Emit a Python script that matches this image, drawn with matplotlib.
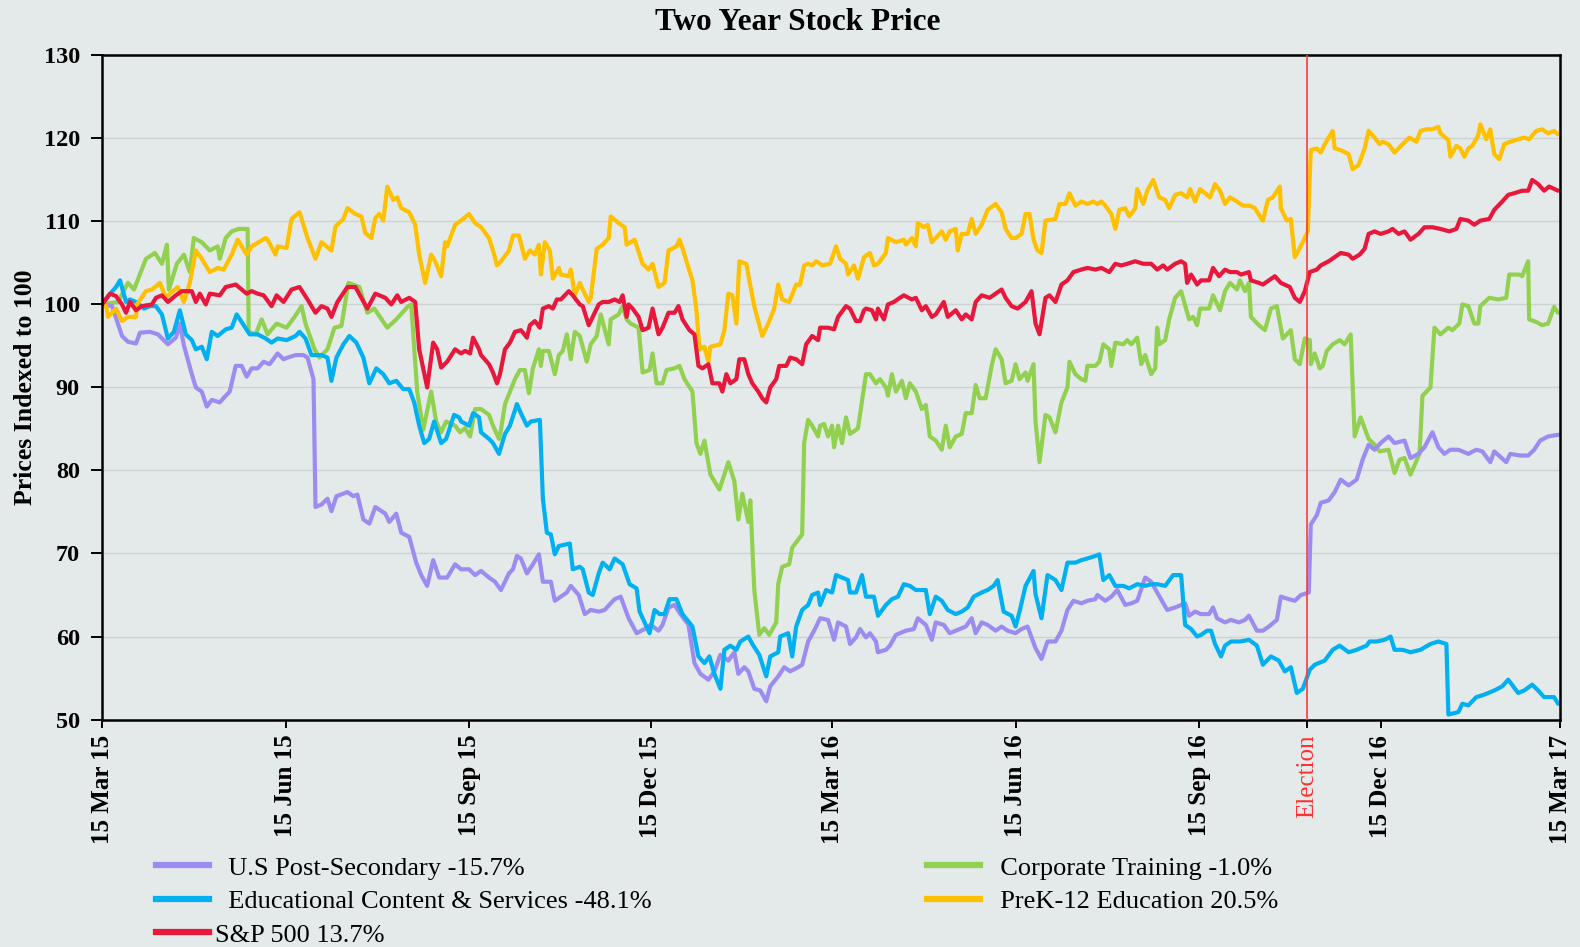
import matplotlib
matplotlib.use("Agg")
import matplotlib.pyplot as plt
import matplotlib.dates as mdates
from matplotlib.lines import Line2D
from datetime import datetime
import numpy as np

plt.rcParams['font.family'] = ['Liberation Serif', 'DejaVu Serif']

# (days since 15 Mar 2015, indexed price)
post_secondary = [
    (0, 100.0), (5, 99.8), (10, 96.2), (13, 95.5), (17, 95.3), (19, 96.6), (24, 96.7), (28, 96.4),
    (33, 95.2), (37, 96.0), (39, 97.7), (41, 95.1), (45, 91.6), (47, 90.0), (50, 89.5), (52.5, 87.7),
    (55, 88.5), (59, 88.2), (62, 89.0), (64, 89.5), (67, 92.6), (70, 92.6), (72.5, 91.3), (75, 92.3),
    (78, 92.3), (81, 93.1), (84, 92.8), (88, 94.1), (91, 93.4), (93, 93.6), (97, 93.9), (101, 93.9),
    (103, 93.6), (106, 91.0), (107, 75.6), (110, 75.9), (113, 76.6), (115, 75.1), (117.5, 76.9),
    (123, 77.4), (126, 76.9), (128, 77.1), (131, 74.1), (134, 73.6), (137, 75.6), (142, 74.8),
    (144, 73.8), (147.5, 74.8), (150, 72.5), (154, 72.0), (157.5, 68.9), (160, 67.4), (163, 66.1),
    (166, 69.2), (169, 67.1), (173, 67.1), (177, 68.7), (180, 68.1),
    (184, 68.1), (187, 67.4), (190, 67.9), (194, 67.1), (197, 66.6), (200, 65.6), (204, 67.6),
    (206, 68.1), (208, 69.7), (210, 69.4), (213, 67.6), (216, 68.7), (219, 69.9), (221, 66.6),
    (225, 66.6), (227, 64.3), (230, 64.8), (233, 65.3), (235, 66.1), (239, 65.0), (242, 62.7),
    (245, 63.2), (249, 63.0), (252, 63.2), (255, 64.0), (257, 64.5), (260, 64.8), (264, 62.2),
    (268, 60.4), (272, 60.9), (275, 61.4), (279, 60.7), (281, 61.4), (284, 63.5), (287, 63.8),
    (290, 62.7), (294, 61.4), (297, 56.8), (300, 55.5), (304, 54.8), (307, 55.8), (310, 57.8),
    (314, 57.1), (317, 58.1), (319, 55.5), (322, 56.3), (324, 55.8), (327, 53.7), (330, 53.5),
    (333, 52.2), (335, 54.0), (339, 55.2), (342, 56.3), (345, 55.8), (349, 56.3), (351, 56.6),
    (354, 59.4), (357, 60.7), (360, 62.2),
    (364, 62.0), (367, 59.6), (369, 61.7), (373, 61.2), (375, 59.1), (378, 59.9), (380, 60.9),
    (383, 59.9), (385, 60.4), (388, 59.4), (389, 58.1), (393, 58.4), (395, 58.9), (398, 60.2),
    (400, 60.4), (403, 60.7), (407, 60.9), (409, 62.2), (413, 61.4), (416, 59.6), (418, 61.7),
    (422, 61.4), (425, 60.4), (428, 60.7), (433, 61.2), (436, 62.2), (438, 60.4), (441, 61.7),
    (444, 61.4), (448, 60.7), (451, 61.2), (454, 60.7), (458, 60.4), (461, 60.9), (464, 61.2),
    (468, 58.6), (471, 57.3), (474, 59.4), (478, 59.4), (481, 60.7), (484, 63.2), (487, 64.3),
    (491, 64.0), (494, 64.3), (498, 64.5), (499, 65.0), (503, 64.3), (506, 64.8), (509, 65.6),
    (513, 63.8), (516, 64.0), (519, 64.3), (523, 67.1), (526, 66.6), (529, 65.3), (534, 63.2),
    (538, 63.5), (543, 64.0),
    (545, 62.5), (548, 63.0), (551, 62.7), (555, 62.7), (557, 63.5), (559, 62.2), (563, 61.7),
    (566, 62.0), (570, 61.7), (573, 62.0), (575, 62.5), (579, 60.7), (582, 60.7), (585, 61.2),
    (589, 62.0), (591, 64.8), (595, 64.5), (598, 64.3), (601, 65.0), (605, 65.3), (606, 73.5),
    (609, 74.6), (611, 76.1), (615, 76.4), (618, 77.4), (621, 78.9), (625, 78.2), (629, 78.9),
    (632, 81.3), (635, 83.1), (638, 82.5), (641, 83.3), (645, 84.1), (648, 83.3), (653, 83.6),
    (656, 81.5), (660, 82.0), (663, 82.8), (667, 84.6), (670, 82.8), (673, 82.0), (676, 82.5),
    (680, 82.5), (685, 82.0), (689, 82.5), (692, 82.3), (696, 81.0), (698, 82.3), (704, 81.0),
    (706, 82.0), (711, 81.8), (715, 81.8), (718, 82.5), (721, 83.6), (725, 84.1), (730, 84.3),
]

ed_content = [
    (0, 100.0), (3, 101.0), (7, 102.1), (9, 102.9), (12, 100.3), (14, 100.6), (17, 100.3), (21, 99.5),
    (24, 99.8), (27, 99.8), (30, 98.8), (33, 95.9), (36, 96.7), (39, 99.3), (42, 96.4), (45, 95.7),
    (47, 94.6), (50, 94.9), (52.5, 93.4), (55, 96.7), (58, 96.2), (62, 97.0), (65, 97.2), (67.5, 98.8),
    (71, 97.5), (74, 96.4), (78, 96.4), (82, 95.9), (85, 95.4), (88, 95.9), (92.5, 95.7), (97, 96.2),
    (99, 96.7), (102, 95.9), (105, 93.9), (110, 93.9), (113, 93.6), (115, 90.8), (117.5, 93.6),
    (121, 95.2), (124, 96.2), (127.5, 95.4), (131, 93.6), (134, 90.5), (137.5, 92.3), (141, 91.6),
    (144, 90.5), (147.5, 90.8), (151, 89.8), (154, 89.8), (156.5, 88.2), (159, 85.4), (161.5, 83.3),
    (164, 83.8), (166.5, 85.9), (170, 83.3), (172.5, 83.8), (176.5, 86.7), (179, 86.4),
    (180, 85.9), (184, 85.4), (186, 86.9), (189, 86.4), (190, 84.6), (194, 83.8), (196, 83.3),
    (199, 82.0), (202, 84.4), (204.5, 85.4), (208, 88.0), (210, 86.9), (213, 85.4), (215, 85.9),
    (219.5, 86.1), (221, 76.6), (223, 72.5), (225, 72.3), (227, 69.9), (229, 70.9), (234.5, 71.2),
    (236, 68.1), (239.5, 68.4), (241, 68.1), (244, 65.3), (246, 65.0), (249, 67.6), (251, 68.9),
    (254.5, 68.1), (257, 69.4), (261, 68.7), (264.5, 66.3), (268, 65.8), (269.5, 63.0), (273, 61.2),
    (274.5, 60.4), (277, 63.2), (279.5, 62.7), (282, 62.7), (284.5, 64.5), (288, 64.5), (291, 62.7),
    (296, 61.2), (299, 57.6), (302, 56.8), (304.5, 57.6), (307, 55.5), (310, 53.7), (312, 58.4),
    (315, 58.9), (318, 58.4), (320, 59.4), (324, 60.0), (326, 59.1), (329.5, 57.8), (333, 55.2),
    (335, 57.6), (339, 58.1), (340, 60.0), (344, 60.4), (346, 57.6), (348, 61.2), (351, 63.2),
    (354, 63.8), (356, 65.0), (359, 65.3), (360, 63.8),
    (363, 65.6), (366, 65.3), (368, 67.4), (371, 67.1), (374, 66.8), (375, 65.3), (378, 65.3),
    (381, 67.4), (383, 64.8), (387, 64.8), (389, 62.5), (393, 63.8), (396, 64.5), (399, 64.8),
    (402, 66.3), (405, 66.1), (408, 65.6), (413, 65.6), (415, 62.7), (418, 64.8), (421, 64.3),
    (424, 63.2), (428, 62.7), (431, 63.0), (434, 63.5), (437, 64.8), (441, 65.3), (444, 65.6),
    (447, 66.1), (449, 66.8), (452, 63.0), (456, 62.5), (458, 61.2), (460, 63.0), (463, 66.1),
    (467, 67.9), (468, 65.1), (471, 62.2), (474, 67.4), (478, 66.8), (481, 65.6), (484, 68.9),
    (488, 68.9), (491, 69.2), (494, 69.4), (498, 69.7), (500, 69.9), (502, 66.8), (505, 67.4),
    (508, 66.1), (512, 66.1), (515, 65.8), (519, 66.3), (523, 66.1), (526, 66.3), (529, 66.3),
    (533, 66.1), (537, 67.4),
    (541, 67.4), (543, 61.4), (546, 60.9), (549, 60.0), (551, 60.2), (554, 60.7), (556, 60.7),
    (558, 59.1), (561, 57.6), (563, 58.9), (566, 59.4), (570.5, 59.4), (575, 59.6), (579, 58.9),
    (582, 56.6), (586, 57.6), (590, 57.1), (593, 55.8), (596, 56.3), (599, 53.2), (602, 53.7),
    (605.5, 56.0), (608, 56.6), (613, 57.1), (617, 58.4), (620.5, 58.9), (625, 58.1), (629, 58.4),
    (634, 58.9), (635.5, 59.4), (639, 59.4), (643, 59.6), (646, 60.0), (648, 58.4), (652, 58.4),
    (656, 58.1), (661, 58.4), (666, 59.1), (670, 59.4), (674, 59.1), (675, 50.6), (680, 50.9),
    (682, 51.9), (685, 51.7), (689, 52.7), (693, 53.0), (698, 53.5), (702, 54.0), (705, 54.8),
    (710, 53.2), (713, 53.5), (717, 54.2), (720, 53.5), (723, 52.7), (728, 52.7), (730, 51.9),
]

sp500 = [
    (0, 100.0), (4, 101.3), (7, 101.0), (10, 100.0), (12, 99.0), (14, 100.3), (17, 99.3), (20, 99.8),
    (25, 100.0), (27, 100.8), (30, 101.1), (33, 100.3), (37, 101.1), (40, 101.6), (45, 101.6),
    (47, 100.3), (49, 101.3), (52, 100.0), (54, 101.3), (59, 101.1), (62, 102.1), (67, 102.4),
    (70, 101.8), (72.5, 101.3), (75, 101.6), (78, 101.3), (81, 101.1), (85, 99.8), (87.5, 101.1),
    (91, 100.3), (95, 101.8), (99, 102.1), (103, 100.6), (107, 99.0), (110, 99.8), (113, 99.5),
    (115, 98.5), (118, 100.3), (123, 102.1), (127, 102.1), (130, 100.8), (133, 99.5), (137, 101.3),
    (142, 100.8), (145, 100.0), (148, 101.1), (150, 100.3), (154, 100.8), (157, 100.3), (159, 94.6),
    (163, 90.0), (166, 95.4), (168, 94.6), (170, 92.4), (173, 93.1), (177, 94.6), (180, 94.1),
    (182, 94.4), (184.5, 94.1), (186, 96.0), (189, 94.6), (190, 93.9), (194, 92.8), (196, 91.8),
    (198, 90.5), (199.5, 91.6), (202, 94.6), (204.5, 95.4), (207, 96.7), (210, 96.9), (213, 96.0),
    (214.5, 97.5), (217, 98.0), (219.5, 97.2), (221, 99.5), (224, 99.8), (226, 99.5), (228, 100.6),
    (230, 100.6), (234, 101.6), (236, 101.1), (239.5, 100.0), (241, 99.8), (244, 97.5), (246, 98.5),
    (249, 100.0), (251, 100.3), (254, 100.3), (257, 100.6), (259.5, 100.3), (261, 101.1), (263, 98.5),
    (264, 100.0), (266, 99.5), (269, 98.5), (271, 96.9), (274, 97.2), (276, 99.5), (279, 96.4),
    (281, 97.2), (284, 99.0), (287, 99.0), (289, 99.8), (291, 98.2), (294.5, 96.9), (297, 96.4),
    (299, 92.6), (301, 92.3), (304, 92.8), (306, 90.5), (309.5, 90.5), (311, 89.5), (313, 91.6),
    (315, 90.5), (318, 91.0), (319.5, 93.4), (322, 93.4), (324, 91.6), (326, 90.5), (329, 89.5),
    (331, 88.7), (333, 88.2), (335, 90.0), (338, 91.0), (339.5, 92.6), (343, 92.6), (345, 93.6),
    (348, 93.4), (351, 92.8), (353, 95.2), (356, 96.2), (359, 95.7), (360, 97.2),
    (362, 97.2), (364, 97.2), (367, 97.0), (369, 98.5), (373, 99.8), (375, 99.5), (378, 98.0),
    (380, 98.0), (382, 99.3), (383, 99.5), (386, 99.3), (388, 98.2), (389, 99.5), (392, 98.2),
    (394, 100.0), (397, 100.3), (400, 100.8), (402, 101.1), (406, 100.6), (408, 100.8), (411, 99.3),
    (413, 99.8), (416, 98.5), (418, 98.8), (422, 100.3), (424, 98.5), (428, 99.3), (431, 98.2),
    (433, 98.8), (436, 98.2), (438, 100.3), (441, 101.1), (445, 100.8), (448, 101.3), (451, 101.8),
    (453, 100.8), (456, 99.8), (459, 99.5), (463, 100.3), (466, 101.6), (468, 97.7), (470, 96.4),
    (473, 100.8), (475, 101.1), (478, 100.3), (481, 102.4), (484, 102.9), (487, 103.9), (491, 104.2),
    (494, 104.4), (498, 104.2), (501, 104.4), (505, 103.9), (508, 104.9), (511, 104.7), (514, 104.9),
    (518, 105.2), (522, 104.9), (526, 104.9), (529, 104.2), (532, 104.7), (534, 104.2), (538, 104.9),
    (541, 105.2), (543, 104.9), (544, 102.6), (546, 103.6), (549, 102.4), (551, 102.9), (555, 102.9),
    (557, 104.4), (560, 103.4), (563, 104.2), (565.5, 103.9), (569, 103.9), (571, 103.6), (575, 103.9),
    (576, 102.9), (580, 102.6), (582, 102.4), (585, 102.9), (588, 103.4), (591, 102.6), (595.5, 102.1),
    (598, 100.8), (600.5, 100.3), (603, 101.6), (605.5, 103.9), (609, 104.2), (611, 104.7),
    (615, 105.2), (618, 105.7), (621, 106.2), (625, 106.0), (627, 105.5), (630.5, 106.0), (633, 106.7),
    (635, 108.5), (638, 108.8), (641, 108.5), (645, 108.8), (647, 109.1), (650, 108.5), (653, 108.8),
    (656, 107.8), (660, 108.5), (663, 109.3), (667, 109.3), (671, 109.1), (675.5, 108.8), (679, 109.1),
    (681, 110.3), (685, 110.1), (688, 109.6), (691, 110.1), (695.5, 110.3), (698, 111.4), (702, 112.4),
    (705, 113.2), (708, 113.4), (712, 113.7), (715, 113.7), (717, 115.0), (720, 114.5), (723, 113.7),
    (725.5, 114.2), (730, 113.7),
]

corporate = [
    (0, 100.0), (8, 100.3), (13, 102.6), (16, 101.8), (22, 105.5), (26.5, 106.2), (30, 104.9),
    (32.5, 107.2), (33.5, 101.8), (37.5, 104.9), (41, 106.0), (44, 103.9), (46, 108.0), (50, 107.5),
    (54, 106.5), (58, 107.0), (59, 105.5), (62, 108.0), (65, 108.8), (68.5, 109.1), (73, 109.1),
    (73.5, 96.7), (77, 96.4), (80, 98.2), (83, 96.4), (87.5, 97.7), (92.5, 97.2), (96.5, 98.5),
    (100, 99.8), (102, 97.7), (106.5, 94.6), (109, 93.6), (113, 94.6), (116.5, 97.2), (120, 97.4),
    (123.5, 102.6), (129, 102.1), (133, 99.0), (136.5, 99.5), (143, 97.2), (147.5, 98.2),
    (153.5, 99.8), (155, 100.0), (158, 89.5), (161, 84.9), (165, 89.5), (167.5, 85.9), (170, 84.6),
    (172.5, 85.9), (177, 85.4),
    (179.5, 84.6), (182, 85.1), (184.5, 84.1), (187, 87.4), (190, 87.4), (194, 86.7), (196, 85.4),
    (199, 83.8), (200, 84.9), (202, 88.0), (204.5, 89.5), (207, 91.0), (209.5, 92.1), (212, 92.1),
    (214, 89.3), (216, 92.3), (219, 94.6), (220, 92.6), (221, 94.4), (224, 94.4), (227, 91.6),
    (229, 93.9), (231, 94.4), (233, 96.4), (235, 93.4), (237, 96.7), (239.5, 96.2), (243, 93.1),
    (245, 95.2), (248, 96.2), (250, 98.8), (254, 95.2), (255, 98.2), (259, 98.8), (261, 99.8),
    (263, 98.2), (265, 97.7), (269, 97.2), (271, 91.8), (274.5, 92.1), (276, 94.1), (278, 90.5),
    (281, 90.5), (283, 92.1), (287, 92.3), (289.5, 92.6), (292, 91.0), (296, 89.5), (298, 83.3),
    (300, 82.0), (302, 83.6), (305, 79.5), (309.5, 77.7), (314, 81.0), (317, 78.7), (319, 74.1),
    (321, 77.2), (324, 73.8), (325, 76.4), (327, 65.6), (329.5, 60.2), (332, 61.0), (334.5, 60.2),
    (338, 61.7), (339, 66.3), (341, 68.4), (344.5, 68.7), (346, 70.7), (351, 72.3), (352, 83.3),
    (354, 86.1), (356, 85.4), (359, 84.1), (360, 85.4),
    (362, 85.6), (364, 84.1), (366, 85.4), (367, 82.8), (369, 85.4), (371, 83.3), (373, 86.4),
    (375, 84.4), (378, 84.9), (379, 85.1), (383, 91.6), (385, 91.6), (388, 90.5), (390, 91.0),
    (393, 90.0), (394, 89.0), (396, 91.6), (398, 89.5), (401, 90.8), (403, 88.7), (405, 90.5),
    (408, 89.5), (411, 87.4), (413, 87.9), (415, 84.1), (418, 83.6), (421, 82.5), (423, 85.4),
    (425, 82.8), (428, 84.1), (431, 84.4), (433, 86.9), (436, 86.9), (438, 90.3), (440, 88.7),
    (443, 88.7), (446, 92.6), (448, 94.6), (451, 93.4), (453, 90.5), (456, 90.8), (458, 92.8),
    (460, 91.0), (463, 91.8), (464, 90.8), (467, 92.8), (468, 85.9), (470, 81.0), (473, 86.7),
    (475, 86.4), (478, 84.6), (481, 88.2), (484, 90.0), (485, 93.1), (488, 91.6), (491, 91.0),
    (493, 90.8), (494, 92.6), (498, 92.6), (500, 93.1), (502, 95.2), (505, 94.6), (506, 92.6),
    (508, 95.4), (512, 95.2), (514, 95.7), (516, 95.2), (519, 96.0), (521, 92.8), (523, 93.9),
    (526, 91.6), (528, 92.3), (529, 97.2), (530, 95.2), (533, 95.7), (535, 98.2), (538, 100.8),
    (541, 101.6), (545, 98.2), (547, 98.5), (549, 97.5), (550.5, 99.5), (555, 99.5), (557, 101.1),
    (560.5, 99.3), (563, 101.6), (565.5, 102.6), (569, 101.8), (570.5, 102.9), (573, 101.6),
    (575, 102.6), (576, 98.5), (580, 97.5), (583, 96.9), (586, 99.5), (589, 99.8), (592, 95.9),
    (596, 96.9), (598, 93.4), (600.5, 92.8), (603, 95.9), (605.5, 95.7), (606, 92.8), (608, 94.1),
    (610.5, 92.3), (612, 92.6), (614, 94.4), (617, 95.2), (620.5, 95.7), (623, 95.2), (626, 96.4),
    (628, 84.1), (631, 86.4), (635, 83.8), (638, 83.1), (640.5, 82.3), (645, 82.5), (648, 79.7),
    (650.5, 81.3), (653, 81.5), (656, 79.5), (660.5, 82.0), (662, 89.0), (666, 90.0), (668, 97.2),
    (671, 96.4), (675, 97.2), (677, 96.9), (680.5, 97.7), (682, 100.0), (685, 99.8), (688, 97.7),
    (690, 97.7), (691, 99.8), (695.5, 100.8), (700, 100.6), (704, 100.8), (705.5, 103.6),
    (710.5, 103.6), (712, 103.4), (715, 105.2), (715.5, 98.2), (719, 97.9), (722, 97.5),
    (725, 97.7), (728, 99.7), (730, 99.0),
]

prek12 = [
    (0, 100.0), (2, 99.8), (3, 98.5), (7, 99.5), (10, 98.0), (13, 98.5), (17, 98.5), (17.5, 100.0),
    (22, 101.6), (25, 101.8), (29, 102.6), (32, 100.8), (34, 101.3), (38, 102.1), (41, 100.3),
    (44, 102.6), (47, 106.5), (50, 105.5), (54, 103.9), (58, 104.4), (61, 104.2), (65, 106.0),
    (68, 107.8), (72.5, 106.0), (75, 107.0), (82, 108.0), (83, 107.8), (87, 106.0), (88, 107.0),
    (92.5, 106.8), (95, 110.3), (99, 111.1), (103, 108.0), (107, 105.5), (110, 107.5), (115, 106.5),
    (117, 109.4), (121, 110.3), (123, 111.6), (127, 110.9), (130, 110.6), (132, 108.6), (135, 108.0),
    (137, 110.4), (139, 110.9), (141, 110.1), (143, 114.2), (146, 112.6), (148, 112.9), (150, 111.6),
    (154, 111.1), (157, 109.6), (159, 106.0), (162, 102.6), (165, 106.0), (167, 105.2), (170, 103.4),
    (172, 107.5), (173, 107.0), (177, 109.6),
    (180, 110.1), (184, 110.9), (187, 109.8), (190, 109.3), (194, 108.0), (196, 106.5), (198, 104.7),
    (200, 105.2), (204, 106.5), (206, 108.3), (209, 108.3), (212, 105.5), (214.5, 106.5), (217, 106.0),
    (219, 107.2), (220, 103.6), (222, 107.5), (224.5, 106.5), (226, 103.1), (229, 104.4), (230, 103.6),
    (234, 103.4), (235, 104.2), (237, 101.1), (239.5, 102.6), (241, 101.8), (244, 100.3), (245, 100.8),
    (248, 106.7), (251, 107.2), (254, 108.0), (255, 110.6), (259, 109.8), (262, 109.3), (263, 107.2),
    (267, 107.8), (269.5, 106.0), (271, 104.9), (274, 104.2), (276, 104.9), (279, 102.1), (282, 102.6),
    (284, 106.5), (288, 107.0), (289.5, 107.8), (291, 106.8), (294, 104.4), (296, 102.9), (298, 99.3),
    (299.5, 94.6), (302, 94.9), (304, 93.1), (305, 94.9), (310, 95.2), (312, 96.9), (314, 101.3),
    (316, 101.1), (318, 97.7), (319.5, 105.2), (323, 104.9), (324.5, 102.9), (327, 99.8), (331, 96.2),
    (334, 97.7), (337, 99.5), (339, 102.4), (341, 100.6), (344.5, 100.3), (348, 102.4), (350, 102.4),
    (352, 104.7), (354, 104.9), (356, 104.7), (358, 105.2), (360, 104.9),
    (361, 104.7), (365, 104.9), (368, 107.0), (370, 105.5), (373, 104.9), (374, 103.6), (377, 104.7),
    (379, 103.1), (382, 105.7), (385, 106.2), (387, 104.7), (389, 104.9), (393, 106.2), (394, 108.0),
    (398, 107.5), (402, 107.8), (403, 107.2), (406, 108.0), (408, 107.0), (409, 109.8), (412, 109.3),
    (414, 109.6), (416, 107.5), (418, 108.0), (421, 108.8), (423, 107.8), (425, 108.8), (428, 109.1),
    (429, 106.5), (431, 108.5), (434, 108.5), (436, 110.3), (438, 108.5), (441, 109.6), (444, 111.4),
    (448, 112.1), (451, 111.1), (453, 109.1), (456, 108.0), (458, 108.0), (461, 108.5), (463, 110.9),
    (465, 110.9), (467, 107.8), (469, 106.5), (471, 106.2), (473, 110.1), (478, 110.3), (480, 112.1),
    (483, 112.1), (485, 113.4), (488, 111.9), (491, 112.4), (494, 112.1), (497, 112.4), (499, 112.1),
    (501, 112.4), (503, 111.9), (506, 110.9), (508, 109.1), (510, 111.4), (513, 111.6), (515, 110.6),
    (518, 111.6), (519, 113.9), (522, 112.1), (524, 113.7), (527, 115.0), (530, 112.9), (533, 112.6),
    (535, 111.6), (538, 113.2),
    (541, 113.4), (544, 112.9), (545.5, 113.9), (548, 112.4), (550.5, 113.9), (553, 113.4),
    (555.5, 112.9), (558, 114.5), (560.5, 113.7), (563, 112.1), (565.5, 112.9), (569, 112.4),
    (572, 111.9), (575.5, 111.9), (578, 111.6), (580.5, 110.6), (582, 110.1), (584.5, 112.6),
    (587, 112.9), (590.5, 114.2), (591, 111.6), (594, 110.1), (596, 110.3), (598, 105.7),
    (600.5, 106.8), (603, 108.0), (604.5, 108.8), (606, 118.6), (609, 118.8), (611, 118.3),
    (613, 119.3), (617, 120.9), (618, 118.8), (621, 118.6), (625, 118.1), (627, 116.3), (630, 116.8),
    (633, 118.8), (635, 120.9), (638, 120.1), (640.5, 119.3), (642, 119.6), (645, 119.3), (648, 118.3),
    (652, 119.3), (655.5, 120.1), (659, 119.6), (661, 120.9), (664, 121.1), (667, 121.1), (670, 121.4),
    (671, 120.6), (675, 119.8), (676, 117.8), (679, 119.1), (681, 118.8), (683, 117.8), (685, 118.8),
    (687, 119.1), (690, 120.4), (691, 121.7), (694, 119.9), (696, 121.1), (698, 118.1), (700.5, 117.5),
    (703, 119.3), (706, 119.6), (710, 119.9), (713, 120.1), (715.5, 119.9), (719, 120.9), (722, 121.1),
    (725, 120.6), (728, 120.9), (730, 120.5),
]

series_labels = ['  U.S Post-Secondary -15.7%', '  Educational Content & Services -48.1%',
                 'S&P 500 13.7%', '  Corporate Training -1.0%', '  PreK-12 Education 20.5%']
tick_dates = [datetime(2015, 3, 15), datetime(2015, 6, 15), datetime(2015, 9, 15),
              datetime(2015, 12, 15), datetime(2016, 3, 15), datetime(2016, 6, 15),
              datetime(2016, 9, 15), datetime(2016, 11, 8), datetime(2016, 12, 15),
              datetime(2017, 3, 15)]
tick_labels = ['15 Mar 15', '15 Jun 15', '15 Sep 15', '15 Dec 15', '15 Mar 16', '15 Jun 16',
               '15 Sep 16', 'Election', '15 Dec 16', '15 Mar 17']
election_date = datetime(2016, 11, 8)

bg = '#e4eaea'
colors = {
    'post': '#9d8cf0',
    'ed': '#00b0f0',
    'sp': '#e8173c',
    'corp': '#92d050',
    'prek': '#ffc000',
}

base = mdates.date2num(datetime(2015, 3, 15))


def unzip(pairs):
    d, v = zip(*pairs)
    return base + np.array(d, dtype=float), np.array(v)


fig = plt.figure(figsize=(15.8, 9.47), dpi=100, facecolor=bg)
ax = fig.add_axes([0.0646, 0.2402, 0.9228, 0.7013])
ax.set_facecolor(bg)

lw = 3.0
for key, data in [('corp', corporate), ('post', post_secondary), ('ed', ed_content),
                  ('prek', prek12), ('sp', sp500)]:
    x, y = unzip(data)
    ax.plot(x, y, color=colors[key], lw=lw, solid_joinstyle='round', solid_capstyle='round')

ax.axvline(mdates.date2num(election_date), color='#ff3b3b', lw=1.2, zorder=3)

ax.set_xlim(base, mdates.date2num(datetime(2017, 3, 15)))
ax.set_ylim(50, 130)
ax.set_yticks(range(50, 131, 10))
ax.yaxis.grid(True, color='#cdd3d3', lw=1)
ax.set_axisbelow(True)

for sp in ax.spines.values():
    sp.set_linewidth(1.8)
    sp.set_color('black')

ax.set_xticks([mdates.date2num(d) for d in tick_dates])
ax.set_xticklabels(tick_labels, rotation=90, fontsize=18, fontweight='bold')
for lab in ax.get_xticklabels():
    if lab.get_text() == 'Election':
        lab.set_color('#ff3030')
        lab.set_fontweight('normal')
for lab in ax.get_yticklabels():
    lab.set_fontsize(17.5)
    lab.set_fontweight('bold')
ax.tick_params(axis='x', direction='out', length=6, width=1.4, pad=5)
ax.tick_params(axis='y', direction='out', length=8, width=1.4, pad=8)

ax.set_ylabel('Prices Indexed to 100', fontsize=18.5, fontweight='bold', labelpad=5)
fig.text(0.505, 0.976, 'Two Year Stock Price', ha='center', va='center',
         fontsize=22.5, fontweight='bold')

handles = [Line2D([0], [0], color=colors[k], lw=4.5)
           for k in ['post', 'ed', 'sp', 'corp', 'prek']]
leg_kw = dict(loc='upper left', frameon=False, fontsize=19, handlelength=2.0,
              handletextpad=0.25, labelspacing=0.38, borderpad=0, borderaxespad=0)
fig.legend(handles[:3], series_labels[:3], bbox_to_anchor=(0.0987, 0.096), **leg_kw)
fig.legend(handles[3:], series_labels[3:], bbox_to_anchor=(0.587, 0.096), **leg_kw)

fig.savefig('out.png', dpi=100, facecolor=bg)
